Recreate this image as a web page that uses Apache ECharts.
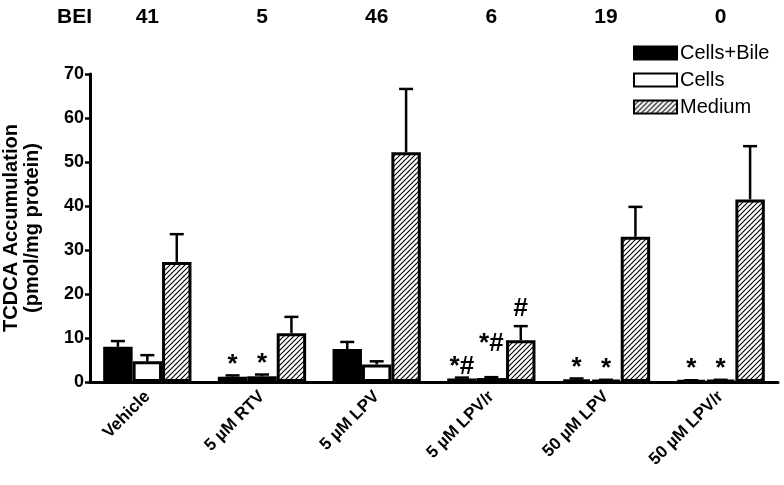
<!DOCTYPE html>
<html><head><meta charset="utf-8">
<script src="https://cdn.jsdelivr.net/npm/echarts@6/dist/echarts.min.js"></script>
<style>html,body{margin:0;padding:0;background:#fff}#c{width:784px;height:485px}</style>
</head><body><div id="c"></div>
<script>
// ---- data ----
const categories = ['Vehicle', '5 µM RTV', '5 µM LPV', '5 µM LPV/r', '50 µM LPV', '50 µM LPV/r'];
const beiValues = ['41', '5', '46', '6', '19', '0'];
const seriesNames = ['Cells+Bile', 'Cells', 'Medium'];
const cellsBile = [8.0, 1.2, 7.5, 0.8, 0.6, 0.3];
const cellsBileErr = [1.3, 0.3, 1.6, 0.2, 0.2, 0.1];
const cells = [4.7, 1.3, 4.0, 0.9, 0.4, 0.4];
const cellsErr = [1.4, 0.4, 0.7, 0.2, 0.1, 0.1];
const medium = [27.3, 11.1, 52.2, 9.5, 33.0, 41.5];
const mediumErr = [6.3, 3.7, 14.4, 3.2, 6.8, 12.1];
const cellsBileMarks = ['', '*', '', '*#', '*', '*'];
const cellsMarks = ['', '*', '', '*#', '*', '*'];
const mediumMarks = ['', '', '', '#', '', ''];
const yMin = 0, yMax = 70, yStep = 10;

// ---- styles ----
const FONT = "'Liberation Sans', Arial, sans-serif";
const CAT_GAP = 0.23;

function hatchCanvas() {
  const s = 5;
  const c = document.createElement('canvas');
  c.width = s; c.height = s;
  const g = c.getContext('2d');
  g.fillStyle = '#fff'; g.fillRect(0, 0, s, s);
  g.strokeStyle = '#000'; g.lineWidth = 1.1;
  g.beginPath();
  g.moveTo(-1, s + 1); g.lineTo(s + 1, -1);
  g.moveTo(-1, 1); g.lineTo(1, -1);
  g.moveTo(s - 1, s + 1); g.lineTo(s + 1, s - 1);
  g.stroke();
  return c;
}
const fills = ['#000', '#fff', { image: hatchCanvas(), repeat: 'repeat' }];
const values = [cellsBile, cells, medium];
const errors = [cellsBileErr, cellsErr, mediumErr];
const marks = [cellsBileMarks, cellsMarks, mediumMarks];

function errRender(k) {
  return function (params, api) {
    const i = api.value(0), m = api.value(1), e = api.value(2);
    const band = api.size([1, 0])[0];
    const bw = band * (1 - CAT_GAP) / 3;
    const p0 = api.coord([i, m]);
    const p1 = api.coord([i, m + e]);
    const x = p0[0] + (k - 1) * bw;
    const cap = 7;
    const st = { stroke: '#000', lineWidth: 2.5 };
    const children = [
      { type: 'line', shape: { x1: x, y1: p0[1], x2: x, y2: p1[1] }, style: st },
      { type: 'line', shape: { x1: x - cap, y1: p1[1], x2: x + cap, y2: p1[1] }, style: st }
    ];
    const t = marks[k][i];
    if (t) {
      let y = p1[1] + 2;
      if (k === 1 && t.length > 1) y -= 22;
      if (k === 2) y -= 6;
      children.push({
        type: 'text',
        style: { text: t, x: x, y: y, align: 'center', verticalAlign: 'bottom',
                 font: 'bold 26px ' + FONT, fill: '#000' }
      });
    }
    return { type: 'group', children: children };
  };
}

const series = [];
for (let k = 0; k < 3; k++) {
  series.push({
    name: seriesNames[k], type: 'bar', data: values[k],
    barGap: '0%', barCategoryGap: (CAT_GAP * 100) + '%',
    itemStyle: { color: fills[k], borderColor: '#000', borderWidth: 3 },
    emphasis: { disabled: true }, animation: false, z: 2
  });
}
for (let k = 0; k < 3; k++) {
  series.push({
    type: 'custom', renderItem: errRender(k), z: 3, animation: false,
    data: categories.map((c, i) => [i, values[k][i], errors[k][i]]),
    encode: { x: 0, y: [1, 2] }, silent: true
  });
}

const chart = echarts.init(document.getElementById('c'), null, { renderer: 'canvas' });
chart.setOption({
  backgroundColor: '#fff',
  animation: false,
  grid: { left: 90, right: 6, top: 74, bottom: 103, containLabel: false, outerBoundsMode: 'none' },
  legend: {
    data: seriesNames, orient: 'vertical', left: 633, top: 43,
    itemWidth: 43, itemHeight: 13, itemGap: 7, padding: 0,
    icon: 'rect',
    textStyle: { fontFamily: FONT, fontSize: 20, color: '#000', padding: [0, 0, 0, -2] },
    selectedMode: false
  },
  xAxis: [
    {
      type: 'category', data: categories,
      axisLine: { lineStyle: { color: '#000', width: 3 } },
      axisTick: { alignWithLabel: true, length: 6, lineStyle: { color: '#000', width: 2.5 } },
      axisLabel: { rotate: 45, fontFamily: FONT, fontWeight: 'bold', fontSize: 17, color: '#000', margin: 12, interval: 0 }
    },
    {
      type: 'category', data: beiValues, position: 'top', offset: 46,
      axisLine: { show: false }, axisTick: { show: false },
      axisLabel: { fontFamily: FONT, fontWeight: 'bold', fontSize: 21, color: '#000', margin: 0, interval: 0 },
      name: 'BEI', nameLocation: 'start', nameGap: -2,
      nameTextStyle: { fontFamily: FONT, fontWeight: 'bold', fontSize: 21, color: '#000', verticalAlign: 'bottom', align: 'right' }
    }
  ],
  yAxis: {
    type: 'value', min: yMin, max: yMax, interval: yStep,
    splitLine: { show: false },
    axisLine: { show: true, lineStyle: { color: '#000', width: 3 } },
    axisTick: { show: true, length: 5, lineStyle: { color: '#000', width: 2.5 } },
    axisLabel: { fontFamily: FONT, fontWeight: 'bold', fontSize: 18, color: '#000', margin: 6 },
    name: 'TCDCA Accumulation\n(pmol/mg protein)', nameLocation: 'middle', nameGap: 47,
    nameTextStyle: { fontFamily: FONT, fontWeight: 'bold', fontSize: 20, lineHeight: 21, color: '#000' }
  },
  series: series
});
</script></body></html>
